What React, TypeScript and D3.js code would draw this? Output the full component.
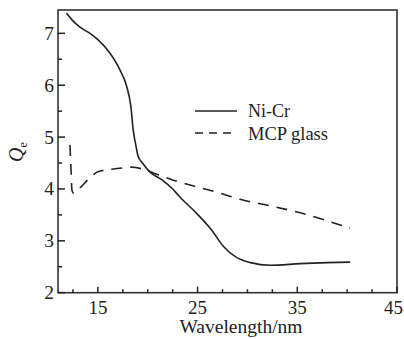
import React from "react";
import * as d3 from "d3";

const niCrX = [11.85, 12.4, 13.2, 14.2, 15.0, 16.2, 17.2, 17.9, 18.3, 18.55, 18.8, 19.05, 19.4, 20.2, 21.4, 22.5, 23.2, 24.9, 26.4, 27.6, 28.9, 30.3, 32.3, 35.3, 38.0, 40.3];
const niCrY = [7.39, 7.26, 7.12, 7.0, 6.88, 6.62, 6.3, 5.97, 5.6, 5.13, 4.85, 4.62, 4.52, 4.33, 4.18, 4.0, 3.85, 3.53, 3.21, 2.89, 2.68, 2.58, 2.53, 2.56, 2.58, 2.59];

const mcpX = [12.2, 12.3, 12.4, 12.55, 13.2, 14.0, 15.0, 16.4, 17.7, 18.4, 19.55, 20.7, 22.56, 24.9, 27.25, 29.25, 31.9, 35.3, 40.3];
const mcpY = [4.85, 4.4, 3.98, 3.92, 4.02, 4.18, 4.33, 4.38, 4.41, 4.42, 4.38, 4.3, 4.17, 4.04, 3.92, 3.8, 3.69, 3.54, 3.24];

const xMajor = [15, 25, 35, 45];
const xMinor = [12.5, 17.5, 20, 22.5, 27.5, 30, 32.5, 37.5, 40, 42.5];
const yMajor = [2, 3, 4, 5, 6, 7];
const yMinor = [2.5, 3.5, 4.5, 5.5, 6.5];

const seriesNames = ["Ni-Cr", "MCP glass"];

const W = 404, H = 339;
const L = 58, R = 397, T = 10, B = 292.7;
const FONT = "'Liberation Serif', 'Times New Roman', serif";

export default function App() {
  const x = d3.scaleLinear().domain([11, 45]).range([L, R]);
  const y = d3.scaleLinear().domain([2, 7.45]).range([B, T]);
  const line = d3.line<[number, number]>().x(d => x(d[0])).y(d => y(d[1])).curve(d3.curveMonotoneX);
  const niCr = niCrX.map((v, i) => [v, niCrY[i]] as [number, number]);
  const mcp = mcpX.map((v, i) => [v, mcpY[i]] as [number, number]);
  const ink = "#222";
  return (
    <svg width={W} height={H} style={{ position: "absolute", left: 0, top: 0, background: "#fff" }}>
      <rect x={0} y={0} width={W} height={H} fill="#fff" />
      <rect x={L} y={T} width={R - L} height={B - T} fill="none" stroke="#333" strokeWidth={1.6} />
      {xMajor.map(t => (
        <line key={"xM" + t} x1={x(t)} x2={x(t)} y1={B} y2={B - 6} stroke={ink} strokeWidth={1.5} />
      ))}
      {xMinor.map(t => (
        <line key={"xm" + t} x1={x(t)} x2={x(t)} y1={B} y2={B - 3.5} stroke={ink} strokeWidth={1.5} />
      ))}
      {yMajor.map(t => (
        <line key={"yM" + t} x1={L} x2={L + 7} y1={y(t)} y2={y(t)} stroke={ink} strokeWidth={1.5} />
      ))}
      {yMinor.map(t => (
        <line key={"ym" + t} x1={L} x2={L + 4} y1={y(t)} y2={y(t)} stroke={ink} strokeWidth={1.5} />
      ))}
      {xMajor.map(t => (
        <text key={"xl" + t} x={Math.min(x(t), 403 - 9.5)} y={314} textAnchor="middle" fontFamily={FONT} fontSize={19} fill={ink}>{t}</text>
      ))}
      {yMajor.map(t => (
        <text key={"yl" + t} x={54} y={y(t) + 6.5} textAnchor="end" fontFamily={FONT} fontSize={19.5} fill={ink}>{t}</text>
      ))}
      <text x={241} y={333} textAnchor="middle" fontFamily={FONT} fontSize={19.5} fill={ink}>Wavelength/nm</text>
      <text transform="translate(23,152) rotate(-90)" textAnchor="middle" fontFamily={FONT} fontSize={20} fill={ink}>
        <tspan fontStyle="italic">Q</tspan>
        <tspan fontSize={12} dy={4}>e</tspan>
      </text>
      <path d={line(niCr) || ""} fill="none" stroke={ink} strokeWidth={1.6} strokeLinejoin="round" />
      <path d={line(mcp) || ""} fill="none" stroke={ink} strokeWidth={1.6} strokeDasharray="11 8" strokeLinejoin="round" />
      <line x1={195} x2={237} y1={111} y2={111} stroke={ink} strokeWidth={1.6} />
      <line x1={195} x2={237} y1={133} y2={133} stroke={ink} strokeWidth={1.6} strokeDasharray="8 6" />
      <text x={248} y={117} fontFamily={FONT} fontSize={18} fill={ink}>{seriesNames[0]}</text>
      <text x={248} y={140} fontFamily={FONT} fontSize={18.5} fill={ink}>{seriesNames[1]}</text>
    </svg>
  );
}
